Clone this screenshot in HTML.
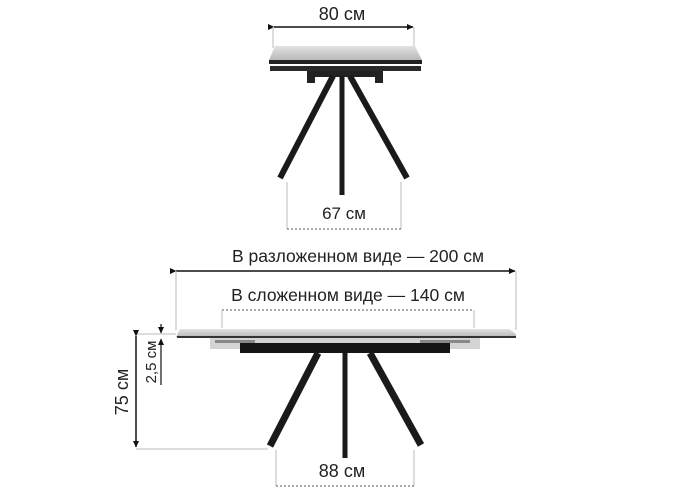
<!DOCTYPE html>
<html><head><meta charset="utf-8"><style>
html,body{margin:0;padding:0;background:#fff;width:700px;height:490px;overflow:hidden}
svg{display:block}
text{font-family:"Liberation Sans",sans-serif;fill:#222}
</style></head><body>
<svg width="700" height="490" viewBox="0 0 700 490" xmlns="http://www.w3.org/2000/svg">
<defs>
<marker id="a" markerWidth="7" markerHeight="7" refX="6" refY="3.5" orient="auto" markerUnits="userSpaceOnUse"><path d="M0,0.5 L6.5,3.5 L0,6.5 z" fill="#111"/></marker>
<linearGradient id="g" x1="0" y1="0" x2="0" y2="1"><stop offset="0" stop-color="#e2e2e2"/><stop offset="1" stop-color="#b8b8b8"/></linearGradient>
</defs>

<!-- TOP TABLE -->
<text x="342" y="20" font-size="18" text-anchor="middle">80 см</text>
<line x1="274" y1="27" x2="413" y2="27" stroke="#111" stroke-width="1.5" marker-start="url(#a)" marker-end="url(#a)"/>
<line x1="273" y1="27" x2="273" y2="48" stroke="#bbb"/>
<line x1="414" y1="27" x2="414" y2="48" stroke="#bbb"/>
<path d="M275,46 L415,46 L422,60 L269,60 z" fill="url(#g)"/>
<rect x="269" y="60" width="153" height="4" fill="#222"/>
<rect x="270" y="66" width="151" height="5" fill="#2a2a2a"/>
<rect x="307" y="71" width="8" height="12" fill="#222"/>
<rect x="375" y="71" width="8" height="12" fill="#222"/>
<rect x="310" y="71" width="70" height="6" fill="#222"/>
<line x1="333" y1="76" x2="280" y2="178" stroke="#1a1a1a" stroke-width="6"/>
<line x1="350" y1="76" x2="407" y2="178" stroke="#1a1a1a" stroke-width="6"/>
<line x1="342" y1="76" x2="342" y2="195" stroke="#1a1a1a" stroke-width="5"/>
<line x1="287" y1="182" x2="287" y2="229" stroke="#bbb"/>
<line x1="401" y1="182" x2="401" y2="229" stroke="#bbb"/>
<line x1="287" y1="229" x2="401" y2="229" stroke="#555" stroke-dasharray="2,2"/>
<text x="344" y="219" font-size="17" text-anchor="middle">67 см</text>

<!-- BOTTOM TABLE -->
<text x="358" y="262" font-size="17.5" text-anchor="middle">В разложенном виде — 200 см</text>
<line x1="176" y1="271" x2="515" y2="271" stroke="#111" stroke-width="1.5" marker-start="url(#a)" marker-end="url(#a)"/>
<line x1="176" y1="271" x2="176" y2="330" stroke="#bbb"/>
<line x1="516" y1="271" x2="516" y2="330" stroke="#bbb"/>
<text x="348" y="301" font-size="17.5" text-anchor="middle">В сложенном виде — 140 см</text>
<line x1="222" y1="310" x2="474" y2="310" stroke="#555" stroke-dasharray="2,2"/>
<line x1="222" y1="310" x2="222" y2="328" stroke="#bbb"/>
<line x1="474" y1="310" x2="474" y2="328" stroke="#bbb"/>

<path d="M180,329 L509,329 L516,334 L516,337 L176,337 z" fill="url(#g)"/>
<rect x="177" y="336" width="339" height="2" fill="#333"/>
<rect x="210" y="338" width="270" height="11" fill="#d4d4d4"/>
<rect x="215" y="340" width="40" height="3" fill="#888"/>
<rect x="420" y="340" width="50" height="3" fill="#888"/>
<rect x="240" y="343" width="210" height="10" fill="#151515"/>
<line x1="318" y1="353" x2="270" y2="446" stroke="#1a1a1a" stroke-width="7"/>
<line x1="370" y1="353" x2="421" y2="445" stroke="#1a1a1a" stroke-width="7"/>
<line x1="345" y1="353" x2="345" y2="458" stroke="#1a1a1a" stroke-width="5"/>

<!-- height dims -->
<line x1="136" y1="334" x2="176" y2="334" stroke="#bbb"/>
<line x1="136" y1="449" x2="268" y2="449" stroke="#bbb"/>
<line x1="136" y1="336" x2="136" y2="447" stroke="#111" stroke-width="1.5" marker-start="url(#a)" marker-end="url(#a)"/>
<text transform="translate(128,392) rotate(-90)" font-size="18" text-anchor="middle">75 см</text>
<line x1="161" y1="324" x2="161" y2="333" stroke="#111" stroke-width="1.2" marker-end="url(#a)"/>
<line x1="161" y1="385" x2="161" y2="339" stroke="#111" stroke-width="1.2" marker-end="url(#a)"/>
<text transform="translate(156,362) rotate(-90)" font-size="15" text-anchor="middle">2,5 см</text>

<line x1="276" y1="450" x2="276" y2="486" stroke="#bbb"/>
<line x1="414" y1="450" x2="414" y2="486" stroke="#bbb"/>
<line x1="276" y1="486" x2="414" y2="486" stroke="#555" stroke-dasharray="2,2"/>
<text x="342" y="477" font-size="18" text-anchor="middle">88 см</text>
</svg>
</body></html>
